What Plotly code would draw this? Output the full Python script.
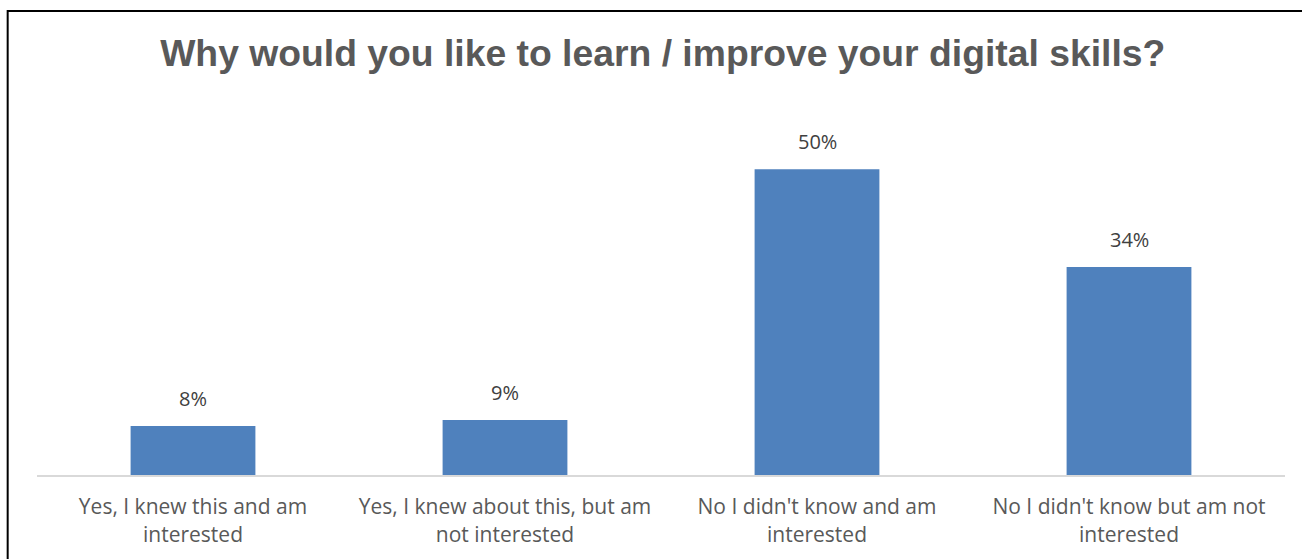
import plotly.graph_objects as go

# Survey answers and their shares (percent)
categories = [
    "Yes, I knew this and am<br>interested",
    "Yes, I knew about this, but am<br>not interested",
    "No I didn't know and am<br>interested",
    "No I didn't know but am not<br>interested",
]
shares = [8, 9, 50, 34]
labels = [f"{v}%" for v in shares]

title_text = "Why would you like to learn / improve your digital skills?"

fig = go.Figure(
    go.Bar(
        x=list(range(len(categories))),
        y=shares,
        marker=dict(color="#4F81BD", line=dict(width=0)),
        width=0.4,
        hoverinfo="skip",
    )
)

# Value labels above each bar
for i, (v, t) in enumerate(zip(shares, labels)):
    fig.add_annotation(
        x=i, y=v, text=t, showarrow=False,
        yanchor="bottom", yshift=12,
        font=dict(family="'Open Sans', 'Noto Sans', sans-serif", size=20, color="#404040"),
    )

# Outer chart frame
fig.add_shape(
    type="rect", xref="paper", yref="paper",
    x0=-0.0235, x1=1.05, y0=-0.4, y1=1.264,
    line=dict(color="black", width=2), fillcolor="rgba(0,0,0,0)",
    layer="above",
)

fig.update_layout(
    width=1302, height=559,
    margin=dict(l=37, r=17, t=108, b=84),
    paper_bgcolor="white", plot_bgcolor="white",
    title=dict(
        text=title_text, x=0.509, xanchor="center", y=0.905, yanchor="middle",
        font=dict(family="'Liberation Sans', Arial, sans-serif", size=37.3, color="#595959", weight="bold"),
    ),
    xaxis=dict(
        tickmode="array", tickvals=list(range(len(categories))), ticktext=categories,
        range=[-0.5, len(categories) - 0.5],
        showline=True, linecolor="#D9D9D9", linewidth=2,
        showgrid=False, zeroline=False, ticks="",
        ticklabelstandoff=12,
        tickfont=dict(family="'Open Sans', 'Noto Sans', sans-serif", size=21, color="#595959"),
    ),
    yaxis=dict(range=[0, 60], visible=False, showgrid=False, zeroline=False),
    showlegend=False,
)

fig.write_html("out.html")
